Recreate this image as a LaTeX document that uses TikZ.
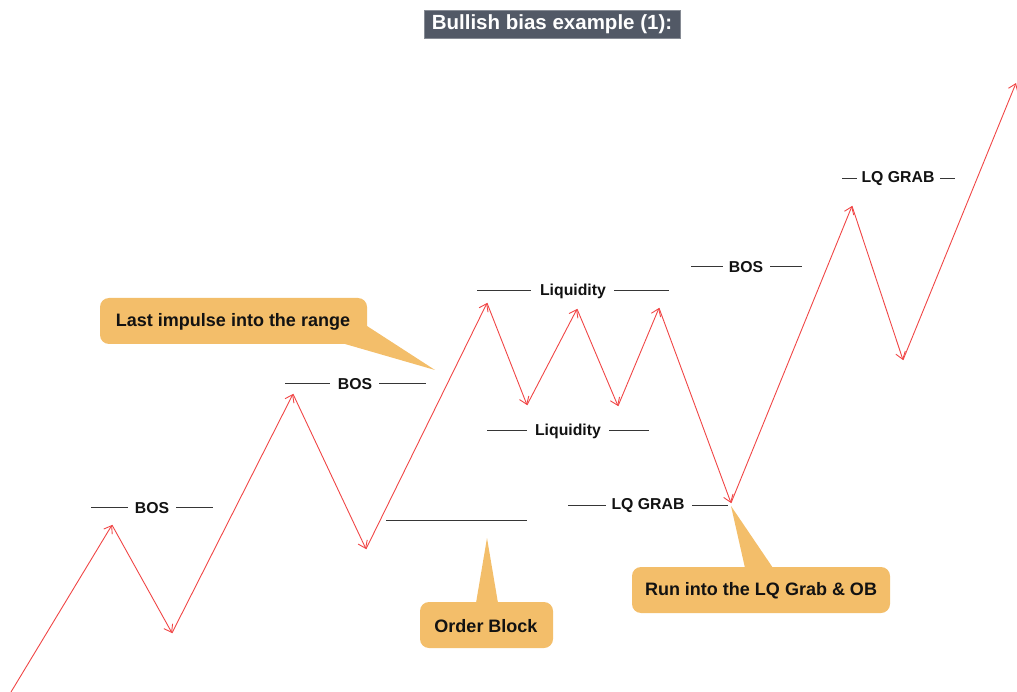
\documentclass[tikz,border=0pt]{standalone}
\usepackage{fontspec}
\setmainfont{Liberation Sans}
\usetikzlibrary{arrows.meta}
\definecolor{trend}{RGB}{240,70,70}
\definecolor{callout}{RGB}{243,190,106}
\definecolor{titlebg}{RGB}{82,89,102}
\definecolor{ink}{RGB}{18,18,18}
\begin{document}
\begin{tikzpicture}[x=1pt,y=-1pt,
  move/.style={trend, line width=0.9pt, -{Straight Barb[length=7pt,width=10pt,line width=0.9pt]}},
  lbl/.style={font=\bfseries\fontsize{15.8}{18}\selectfont, text=ink, inner sep=0pt},
  lvl/.style={draw=ink!85, line width=0.9pt},
  bubble/.style={fill=callout, draw=none, rounded corners=9pt},
  tail/.style={fill=callout, draw=none},
  btext/.style={font=\bfseries\fontsize{18}{21}\selectfont, text=ink, inner sep=0pt}]

\useasboundingbox (0,0) rectangle (1017,692);

% title
\node[fill=titlebg, draw=titlebg!70, line width=0.6pt, minimum width=256pt, minimum height=28pt, inner sep=0pt,
      text=white, font=\bfseries\fontsize{20.5}{24}\selectfont] (title) at (552,24) {Bullish bias example (1):};

% price path points
\coordinate (p0) at (11,692);
\coordinate (p1) at (112,525);
\coordinate (p2) at (172,633);
\coordinate (p3) at (293,394);
\coordinate (p4) at (366,549);
\coordinate (p5) at (487,303);
\coordinate (p6) at (527,405);
\coordinate (p7) at (577,309);
\coordinate (p8) at (618,406);
\coordinate (p9) at (659,308);
\coordinate (p10) at (731,503);
\coordinate (p11) at (852,206);
\coordinate (p12) at (903,360);
\coordinate (p13) at (1016,83);

% callout tails and boxes
\fill[tail] (345,344) -- (367,326) -- (435,370) -- cycle;
\fill[bubble] (100,298) rectangle (367,344);
\node[btext] (impulse) at (233,322) {Last impulse into the range};

\fill[tail] (476,603) -- (498,603) -- (487,538) -- cycle;
\fill[bubble] (420,602) rectangle (553,648);
\node[btext] (ob) at (486,626) {Order Block};

\fill[tail] (745,568) -- (773,568) -- (731,506) -- cycle;
\fill[bubble] (632,567) rectangle (890,613);
\node[btext] (run) at (761,591) {Run into the LQ Grab \& OB};

% level labels
\node[lbl] (bos1) at (152,508) {BOS};
\draw[lvl] (91,507) -- (128,507) (176,507) -- (213,507);

\node[lbl] (bos2) at (355,384) {BOS};
\draw[lvl] (285,383) -- (330,383) (379,383) -- (426,383);

\node[lbl] (liq1) at (573,291) {Liquidity};
\draw[lvl] (477,290) -- (531,290) (614,290) -- (669,290);

\node[lbl] (liq2) at (568,431) {Liquidity};
\draw[lvl] (487,430) -- (527,430) (609,430) -- (649,430);

\node[lbl] (bos3) at (746,267) {BOS};
\draw[lvl] (691,266) -- (723,266) (770,266) -- (802,266);

\node[lbl] (lq1) at (898,179) {LQ GRAB};
\draw[lvl] (842,178) -- (857,178) (940,178) -- (955,178);

\node[lbl] (lq2) at (648,506) {LQ GRAB};
\draw[lvl] (568,505) -- (606,505) (692,505) -- (728,505);

% order block level
\draw[lvl] (386,520) -- (527,520);

% price moves
\draw[move] (p0) -- (p1);
\draw[move] (p1) -- (p2);
\draw[move] (p2) -- (p3);
\draw[move] (p3) -- (p4);
\draw[move] (p4) -- (p5);
\draw[move] (p5) -- (p6);
\draw[move] (p6) -- (p7);
\draw[move] (p7) -- (p8);
\draw[move] (p8) -- (p9);
\draw[move] (p9) -- (p10);
\draw[move] (p10) -- (p11);
\draw[move] (p11) -- (p12);
\draw[move] (p12) -- (p13);
\end{tikzpicture}
\end{document}
